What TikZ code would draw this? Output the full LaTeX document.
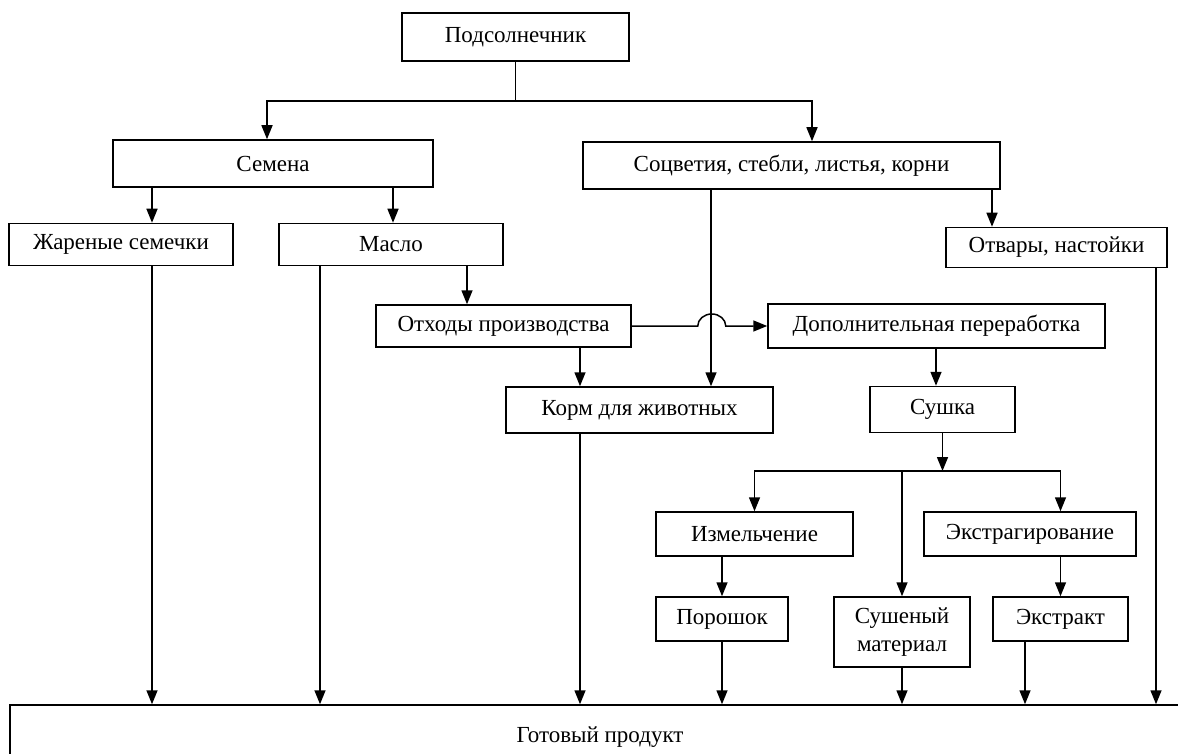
\documentclass[tikz,border=0pt]{standalone}
\usepackage{fontspec}
\setmainfont{Liberation Serif}
\usetikzlibrary{arrows.meta}
\tikzset{%
  >={Triangle[width=11pt,length=14pt]},
       base/.style = {rectangle, draw=black, inner sep=0pt,
                      text centered, font=\fontsize{23}{28}\selectfont},
        box/.style = {base, minimum height=42pt, align=center},
}

\begin{document}
\begin{tikzpicture}[x=1pt, y=-1pt, line width=1.5pt]
  \useasboundingbox (0,0) rectangle (1178,754);

  \node (sun)     [box, minimum width=227pt, minimum height=48pt] at (515.5,37)  {Подсолнечник};
  \node (seeds)   [box, minimum width=320pt, minimum height=47pt] at (273,163.5) {Семена};
  \node (parts)   [box, minimum width=417pt, minimum height=47pt] at (791.5,165.5) {Соцветия, стебли, листья, корни};
  \node (fried)   [box, minimum width=224pt] at (121,244.5)   {Жареные семечки};
  \node (oil)     [box, minimum width=224pt] at (391,244.5)   {Масло};
  \node (decoct)  [box, minimum width=221pt, minimum height=40pt] at (1056.5,247.5) {Отвары, настойки};
  \node (waste)   [box, minimum width=255pt] at (503.5,326)   {Отходы производства};
  \node (proc)    [box, minimum width=337pt, minimum height=44pt] at (936.5,326) {Дополнительная переработка};
  \node (feed)    [box, minimum width=267pt, minimum height=46pt] at (639.5,410) {Корм для животных};
  \node (dry)     [box, minimum width=145pt, minimum height=46pt] at (942.5,409.5) {Сушка};
  \node (grind)   [box, minimum width=197pt, minimum height=44pt] at (754.5,534) {Измельчение};
  \node (extr)    [box, minimum width=212pt, minimum height=44pt] at (1030,534) {Экстрагирование};
  \node (powder)  [box, minimum width=132pt, minimum height=44pt] at (722,619)   {Порошок};
  \node (dried)   [box, minimum width=136pt, minimum height=70pt] at (902,632)   {Сушеный\\материал};
  \node (extract) [box, minimum width=135pt, minimum height=44pt] at (1060.5,619) {Экстракт};
  \node (done)    [base, minimum width=1180pt, minimum height=64pt] at (600,737) {Готовый продукт};

  % top split
  \coordinate (split) at (515.5,101);
  \draw      (sun) -- (split);
  \draw[->]  (split) -| ([xshift=-6pt]seeds.north);
  \draw[->]  (split) -| ([xshift=20.5pt]parts.north);

  \draw[->]  (seeds.south -| 152,0) -- (fried.north -| 152,0);
  \draw[->]  (seeds.south -| 393,0) -- (oil.north -| 393,0);
  \draw[->]  (parts.south -| 992,0) -- (decoct.north -| 992,0);
  \draw[->]  (parts.south -| 711,0) -- (feed.north -| 711,0);
  \draw[->]  (oil.south -| 467,0) -- (waste.north -| 467,0);
  \draw[->]  (waste.south -| 580,0) -- (feed.north -| 580,0);
  \draw[->]  (waste.east) -- ([xshift=66pt]waste.east)
             arc[start angle=180, end angle=360, x radius=14, y radius=12] -- (proc.west);
  \draw[->]  (proc.south -| 936,0) -- (dry.north -| 936,0);

  % drying split
  \coordinate (fork) at (942.5,471);
  \draw[->]  (dry) -- (fork);
  \draw[->]  (fork) -| (grind);
  \draw[->]  (fork) -| (extract.north |- extr.north);
  \draw[->]  (fork -| dried.north) -- (dried.north);
  \draw[->]  (grind.south -| powder.north) -- (powder.north);
  \draw[->]  (extr.south -| extract.north) -- (extract.north);

  % into the product
  \foreach \src/\xx in {fried/152, oil/320, feed/580, powder/722, dried/902, extract/1025, decoct/1156}
    \draw[->] (\src.south -| \xx,0) -- (done.north -| \xx,0);
\end{tikzpicture}
\end{document}
